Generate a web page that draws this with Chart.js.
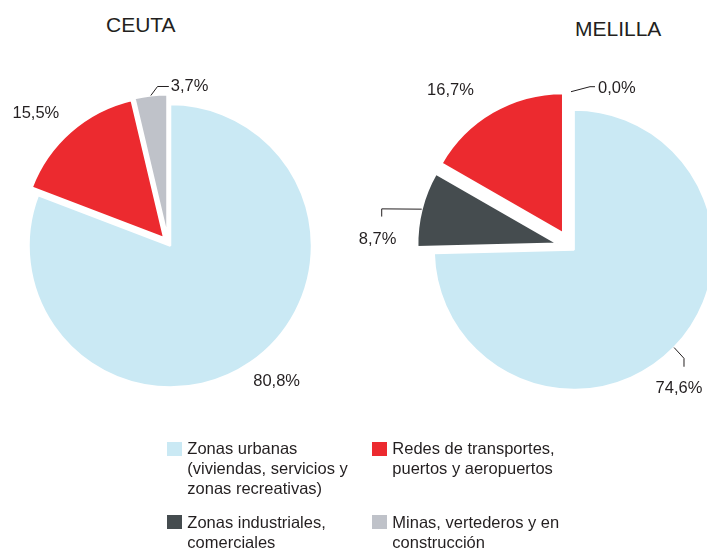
<!DOCTYPE html>
<html>
<head>
<meta charset="utf-8">
<script src="https://cdn.jsdelivr.net/npm/chart.js@4.4.0/dist/chart.umd.min.js"></script>
<style>
body { margin: 0; width: 707px; height: 552px; overflow: hidden; background: #fff; position: relative;
       font-family: "Liberation Sans", Arial, sans-serif; color: #231f20; }
canvas { position: absolute; left: 0; top: 0; }
.title { position: absolute; font-size: 21px; line-height: 21px; }
.sq { position: absolute; width: 15px; height: 14px; }
.lg { position: absolute; font-size: 16.5px; line-height: 20px; white-space: nowrap; }
</style>
</head>
<body>
<div class="title" style="left:106px;top:14px">CEUTA</div>
<div class="title" style="left:575px;top:18px">MELILLA</div>
<canvas id="ceutaChart" width="707" height="552"></canvas>
<canvas id="melillaChart" width="707" height="552"></canvas>
<div id="legend"></div>
<script>
// categories (legend text, line breaks as in the original)
const categories = [
    ['Zonas urbanas', '(viviendas, servicios y', 'zonas recreativas)'],
    ['Zonas industriales,', 'comerciales'],
    ['Redes de transportes,', 'puertos y aeropuertos'],
    ['Minas, vertederos y en', 'construcción']
];
const colors = ['#cae9f4', '#454c4f', '#ec2a2f', '#bfc2c9'];

// % of surface
const ceutaValues = [80.8, 0, 15.5, 3.7];
const melillaValues = [74.6, 8.7, 16.7, 0.0];

// how far each slice is pulled out (px)
const ceutaShift = [4, 0, 6, 6.5];
const melillaShift = [4, 14, 16, 0];

// label placement: plain labels at angle/dist from slice centre, others with a leader line
const ceutaLabels = [
    { i: 0, ang: 141.8, dist: 172 },
    { i: 2, ang: 314.2, dist: 178.8 },
    { i: 3, path: [[6.7, -9], [11.3, 0]], tx: 2, ty: 0, align: 'left' }
];
const melillaLabels = [
    { i: 0, path: [[9.9, 10.8], [0, 8.4]], tx: -5, ty: 21.3, align: 'center' },
    { i: 1, path: [[-40, -0.3], [0, 7.7]], tx: -4.2, ty: 22.8, align: 'center' },
    { i: 2, ang: 321.8, dist: 182 },
    { i: 3, extra: 15.3, path: [[19, -5], [5, 0]], tx: 3, ty: 1.3, align: 'left' }
];

function fmt(v) {
    return v.toFixed(1).replace('.', ',') + '%';
}

function midAngle(arc) {
    return (arc.startAngle + arc.endAngle) / 2;
}

// draws each slice moved out along its middle angle
const explodedSlices = {
    id: 'explodedSlices',
    beforeDatasetDraw(chart, args, opts) {
        const ctx = chart.ctx;
        args.meta.data.forEach(function (arc, i) {
            const mid = midAngle(arc);
            ctx.save();
            ctx.translate(Math.cos(mid) * opts.shift[i], Math.sin(mid) * opts.shift[i]);
            arc.draw(ctx);
            ctx.restore();
        });
        return false;
    }
};

// draws the percentages next to the slices
const pctLabels = {
    id: 'pctLabels',
    afterDatasetsDraw(chart, args, opts) {
        const ctx = chart.ctx;
        const meta = chart.getDatasetMeta(0);
        const values = chart.data.datasets[0].data;
        ctx.save();
        ctx.font = '16.5px "Liberation Sans", Arial, sans-serif';
        ctx.fillStyle = '#231f20';
        ctx.strokeStyle = '#231f20';
        ctx.lineWidth = 1;
        ctx.textBaseline = 'middle';
        opts.labels.forEach(function (lb) {
            const arc = meta.data[lb.i];
            const mid = midAngle(arc);
            const d = opts.shift[lb.i];
            const cx = arc.x + Math.cos(mid) * d;
            const cy = arc.y + Math.sin(mid) * d;
            const txt = fmt(values[lb.i]);
            if (lb.path) {
                const r = arc.outerRadius + (lb.extra || 0);
                let x = cx + Math.cos(mid) * r;
                let y = cy + Math.sin(mid) * r;
                ctx.beginPath();
                ctx.moveTo(x, y);
                lb.path.forEach(function (p) {
                    x += p[0];
                    y += p[1];
                    ctx.lineTo(x, y);
                });
                ctx.stroke();
                ctx.textAlign = lb.align;
                ctx.fillText(txt, x + lb.tx, y + lb.ty);
            } else {
                const a = (lb.ang - 90) * Math.PI / 180;
                ctx.textAlign = 'center';
                ctx.fillText(txt, cx + Math.cos(a) * lb.dist, cy + Math.sin(a) * lb.dist);
            }
        });
        ctx.restore();
    }
};

function makePie(id, values, shift, labels, radius, padding) {
    return new Chart(document.getElementById(id), {
        type: 'pie',
        data: {
            labels: categories.map(function (c) { return c.join(' '); }),
            datasets: [{
                data: values,
                backgroundColor: colors,
                borderColor: '#ffffff',
                borderWidth: 2
            }]
        },
        options: {
            responsive: false,
            animation: false,
            events: [],
            radius: radius,
            layout: { padding: padding },
            plugins: {
                legend: { display: false },
                tooltip: { enabled: false },
                explodedSlices: { shift: shift },
                pctLabels: { shift: shift, labels: labels }
            }
        },
        plugins: [explodedSlices, pctLabels]
    });
}

makePie('ceutaChart', ceutaValues, ceutaShift, ceutaLabels, 141.5,
    { left: 0, right: 371, top: 100, bottom: 167 });
makePie('melillaChart', melillaValues, melillaShift, melillaLabels, 140,
    { left: 435, right: 0, top: 100, bottom: 158 });

// legend: two columns, urbanas/redes on top, industriales/minas below
const legendOrder = [0, 2, 1, 3];
const colX = [166.7, 371.7];
const rowY = [438.3, 511.7];
const legend = document.getElementById('legend');
legendOrder.forEach(function (ci, k) {
    const x = colX[k % 2], y = rowY[Math.floor(k / 2)];
    const sq = document.createElement('div');
    sq.className = 'sq';
    sq.style.left = x + 'px';
    sq.style.top = (y + 3.4) + 'px';
    sq.style.background = colors[ci];
    legend.appendChild(sq);
    const tx = document.createElement('div');
    tx.className = 'lg';
    tx.style.left = (x + 20.6) + 'px';
    tx.style.top = y + 'px';
    tx.innerHTML = categories[ci].join('<br>');
    legend.appendChild(tx);
});
</script>
</body>
</html>
